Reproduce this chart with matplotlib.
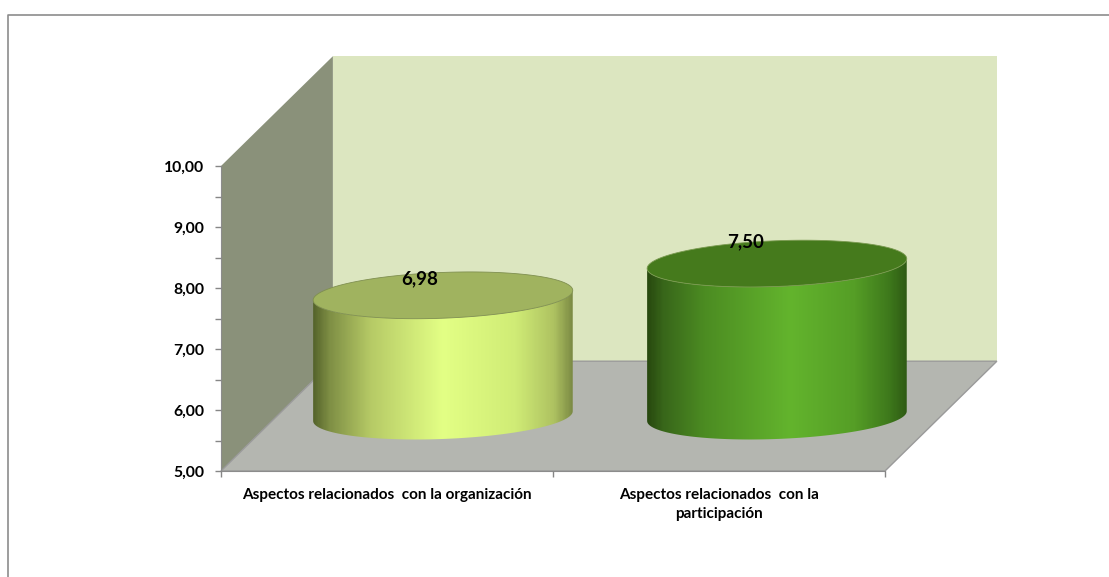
import numpy as np
import matplotlib
import matplotlib.pyplot as plt
from matplotlib.colors import LinearSegmentedColormap
from matplotlib.lines import Line2D
from matplotlib.patches import Polygon

matplotlib.use('agg')

categories = ['Aspectos relacionados  con la organización',
              'Aspectos relacionados  con la\nparticipación']
values = [6.98, 7.50]
value_labels = ['6,98', '7,50']
y_ticks = [5, 6, 7, 8, 9, 10]
y_tick_labels = ['5,00', '6,00', '7,00', '8,00', '9,00', '10,00']

# 3d look, all in data units
DEPTH_X = 0.337
DEPTH_Y = 1.80
HALF_W = 0.391
SEMI_MINOR = 0.375
SKEW = 0.08

side_stops = [
    [(0, '#56652c'), (0.06, '#7e8e44'), (0.22, '#b6ca66'), (0.5, '#e3ff85'),
     (0.78, '#d0ec76'), (0.93, '#aec261'), (1, '#7d8c45')],
    [(0, '#28490f'), (0.06, '#38661a'), (0.22, '#4c8c22'), (0.55, '#63b42d'),
     (0.8, '#559e26'), (0.93, '#3f7a1c'), (1, '#2f5c14')],
]
top_colors = ['#a0b35f', '#457a1c']
rim_colors = ['#7f8f50', '#7a9a50']
label_shift_x = [-0.069, -0.094]
label_shift_y = [0.27, 0.35]

W, H = 1109, 577
fig = plt.figure(figsize=(W / 100, H / 100), dpi=100)
plt.rcParams['font.family'] = ['Lato', 'DejaVu Sans']

# outer chart border, only top and left show in the crop
fig.add_artist(Line2D([7.5 / W, 7.5 / W, 1], [0, 1 - 14.5 / H, 1 - 14.5 / H],
                      transform=fig.transFigure, color='#8c8c8c', linewidth=1.2))

ax = fig.add_axes([221 / W, 1 - 471 / H, 664 / W, 305 / H])
ax.set_facecolor('none')
xlim = (0, 2)
ylim = (5, 10)

# walls and floor
ax.add_patch(Polygon([(0, 5), (DEPTH_X, 5 + DEPTH_Y), (DEPTH_X, 10 + DEPTH_Y), (0, 10)],
                     facecolor='#8a917a', edgecolor='none', clip_on=False, zorder=1))
ax.add_patch(Polygon([(DEPTH_X, 5 + DEPTH_Y), (2 + DEPTH_X, 5 + DEPTH_Y),
                      (2 + DEPTH_X, 10 + DEPTH_Y), (DEPTH_X, 10 + DEPTH_Y)],
                     facecolor='#dce6c0', edgecolor='none', clip_on=False, zorder=1))
ax.add_patch(Polygon([(0, 5), (2, 5), (2 + DEPTH_X, 5 + DEPTH_Y), (DEPTH_X, 5 + DEPTH_Y)],
                     facecolor='#b4b6b0', edgecolor='#9a9a9a', linewidth=1,
                     clip_on=False, zorder=1))


def ellipse(cx, cy, t):
    x = cx + HALF_W * np.cos(t)
    y = cy + SEMI_MINOR * np.sin(t) + SKEW * np.cos(t)
    return x, y


for i, val in enumerate(values):
    cx = i + 0.5 + DEPTH_X / 2 + (0.006 if i else 0)
    base = 5 + DEPTH_Y / 2
    top = val + DEPTH_Y / 2

    # side of the cylinder
    t_low = np.linspace(np.pi, 2 * np.pi, 80)
    xb, yb = ellipse(cx, base, t_low)
    xt, yt = ellipse(cx, top, t_low[::-1])
    side = np.column_stack([np.r_[xb, xt], np.r_[yb, yt]])
    clip = Polygon(side, transform=ax.transData, facecolor='none', edgecolor='none',
                   clip_on=False)
    ax.add_patch(clip)
    cmap = LinearSegmentedColormap.from_list('side%d' % i, side_stops[i])
    im = ax.imshow(np.linspace(0, 1, 300).reshape(1, -1), cmap=cmap, aspect='auto',
                   extent=(cx - HALF_W, cx + HALF_W, base - 1, top + 1), zorder=2)
    im.set_clip_box(fig.bbox)
    im.set_clip_path(clip)

    # top of the cylinder
    t_all = np.linspace(0, 2 * np.pi, 160)
    xe, ye = ellipse(cx, top, t_all)
    ax.add_patch(Polygon(np.column_stack([xe, ye]), facecolor=top_colors[i],
                         edgecolor=rim_colors[i], linewidth=0.6, clip_on=False, zorder=3))

    ax.text(cx + label_shift_x[i], top + label_shift_y[i], value_labels[i], ha='center',
            va='center', fontsize=13.5, fontweight='bold', color='black', zorder=4,
            clip_on=False)

ax.set_xlim(xlim)
ax.set_ylim(ylim)

ax.set_yticks(y_ticks)
ax.set_yticklabels(y_tick_labels, fontsize=11.3, fontweight='bold')
ax.set_yticks(np.arange(5.5, 10, 1), minor=True)
ax.set_xticks([0, 1, 2])
ax.set_xticklabels([])
ax.tick_params(axis='both', which='both', color='#868686', length=4, width=1)
ax.tick_params(axis='y', which='major', pad=8)
for side_name in ['top', 'right']:
    ax.spines[side_name].set_visible(False)
for side_name in ['left', 'bottom']:
    ax.spines[side_name].set_color('#8c8c8c')
    ax.spines[side_name].set_zorder(1.5)

for i, label in enumerate(categories):
    ax.annotate(label, xy=(i + 0.5, 5), xycoords='data', xytext=(0, -12),
                textcoords='offset points', ha='center', va='top', fontsize=11,
                fontweight='bold', color='black', linespacing=1.5,
                annotation_clip=False)

fig.savefig('out.png', dpi=100, facecolor='white')
